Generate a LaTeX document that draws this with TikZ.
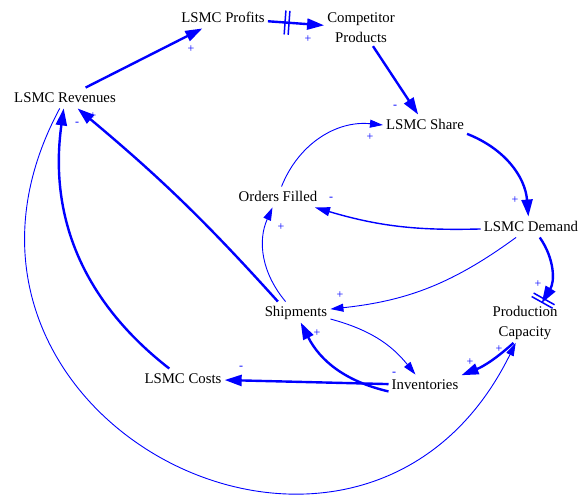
\documentclass[tikz,border=0pt]{standalone}
\usepackage{fontspec}
\setmainfont{Liberation Serif}
\usepackage{tikz}
\usetikzlibrary{positioning, arrows.meta, decorations.markings}

\begin{document}
\begin{tikzpicture}[x = 1pt, y = -1pt, on grid, font = \fontsize{14.8}{20}\selectfont,
  var/.style={inner sep = 3pt, align = center, text height = 11.5pt, text depth = 3pt},
  stack/.style={inner sep = 3pt, align = center},
  sign/.style={text = blue, font = \fontsize{12}{12}\selectfont, inner sep = 0pt},
  thicklink/.style={draw = blue, line width = 2.4pt, >={Triangle[length = 17pt, width = 11pt]}},
  midlink/.style={draw = blue, line width = 1.4pt, >={Triangle[length = 15pt, width = 9pt]}},
  thinlink/.style={draw = blue, line width = 0.9pt, >={Triangle[length = 13pt, width = 8pt]}},
  delay/.style={postaction = {decorate, decoration = {markings, mark = at position #1 with {\draw [-, blue, line width = 1.5pt] (-2pt, -12pt) -- (-2pt, 12pt) (2pt, -12pt) -- (2pt, 12pt);}}}}]
  \useasboundingbox (0,0) rectangle (579,495);

  % nodes
  \node [var] (revenues) at (65,98) {LSMC Revenues};
  \node [var][above right = 80pt and 158pt of revenues] (profits) {LSMC Profits};
  \node [stack][below right = 10pt and 138pt of profits] (competitor) {Competitor\\Products};
  \node [var][below right = 97pt and 64pt of competitor] (share) {LSMC Share};
  \node [var][below right = 102pt and 106pt of share] (demand) {LSMC Demand};
  \node [var][below left = 72pt and 147pt of share] (orders) {Orders Filled};
  \node [stack][below left = 96pt and 6pt of demand] (capacity) {Production\\Capacity};
  \node [var][below right = 115pt and 18pt of orders] (shipments) {Shipments};
  \node [var][below right = 73pt and 129pt of shipments] (inventories) {Inventories};
  \node [var][above left = 6pt and 242pt of inventories] (costs) {LSMC Costs};

  % edges
  \draw [thicklink] [->] (revenues) -- (profits);
  \draw [thicklink, delay = 0.34] [->] (profits) -- (competitor);
  \draw [thicklink] [->] (competitor) -- (share);
  \draw [thicklink] [->] (share) to [bend left = 32] (demand);
  \draw [thicklink, delay = 0.96] [->] (demand.-50) to [bend left = 33] (capacity.50);
  \draw [thinlink] [->] (orders) to [bend left = 37] (share.west);
  \draw [midlink] [->] (demand) to [bend left = 9] (orders);
  \draw [thinlink] [->] (demand) to [bend left = 15] (shipments);
  \draw [thinlink] [->] (shipments.135) to [bend left = 32] (orders);
  \draw [thicklink] [->] (shipments.150) to [bend right = 4] (revenues);
  \draw [thicklink] [->] (costs) to [bend left = 30] (revenues);
  \draw [thicklink] [->] (inventories) -- (costs);
  \draw [thicklink] [->] (inventories.190) to [bend left = 25] (shipments);
  \draw [thinlink] [->] (shipments) to [bend left = 18] (inventories);
  \draw [thicklink] [->] (capacity.-120) to [bend left = 10] (inventories.15);
  \draw [thinlink] [->] (revenues) to [bend right = 91, looseness = 1.75] (capacity);

  % polarities
  \node [sign] (p1) at (191,49) {+};
  \node [sign] (p2) at (308,39) {+};
  \node [sign] (p3) at (395,107) {-};
  \node [sign] (p4) at (515,200) {+};
  \node [sign] (p5) at (370,137) {+};
  \node [sign] (p6) at (331,199) {-};
  \node [sign] (p7) at (281,227) {+};
  \node [sign] (p8) at (340,295) {+};
  \node [sign] (p9) at (538,284) {+};
  \node [sign] (p10) at (93,116) {+};
  \node [sign] (p11) at (77,124) {-};
  \node [sign] (p12) at (241,368) {-};
  \node [sign] (p13) at (317,333) {+};
  \node [sign] (p14) at (394,374) {-};
  \node [sign] (p15) at (470,362) {+};
  \node [sign] (p16) at (499,349) {+};
\end{tikzpicture}
\end{document}
